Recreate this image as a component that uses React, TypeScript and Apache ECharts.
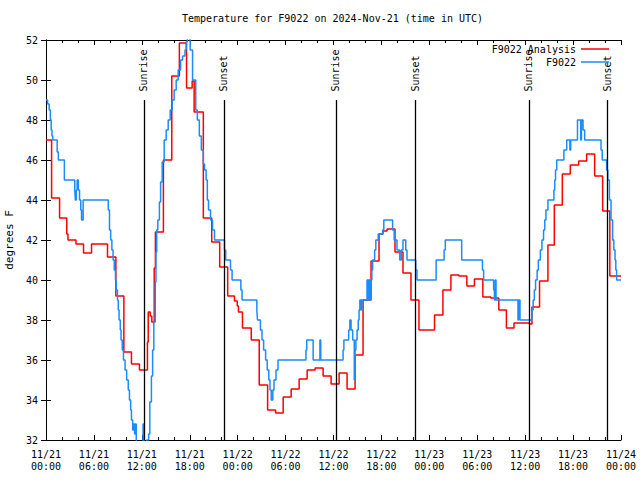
import React, { useEffect, useRef } from "react";
import * as echarts from "echarts";

// Hours since 2024-11-21 00:00 UTC, temperature in degrees F
const analysisData: [number, number][] = [
  [0, 47.0], [0.7, 44.1], [1.7, 43.1], [2.6, 42.3], [2.75, 42.0], [3.75, 41.8],
  [4.7, 41.35], [5.7, 41.8], [7.7, 41.15], [8.75, 39.2], [9.75, 36.4], [10.7, 35.8],
  [11.7, 35.5], [12.7, 36.9], [12.8, 38.4], [13.05, 38.2], [13.25, 37.9], [13.55, 40.6],
  [13.7, 42.4], [14.7, 46.0], [15.75, 50.2], [16.7, 51.85], [17.6, 49.6], [18.3, 49.95],
  [18.55, 48.4], [19.7, 43.1], [20.75, 41.9], [21.75, 40.65], [22.75, 39.2], [23.6, 38.95],
  [23.95, 38.7], [24.1, 38.4], [24.6, 37.6], [25.7, 37.0], [26.7, 34.75], [27.75, 33.5],
  [28.75, 33.35], [29.7, 34.15], [30.7, 34.55], [31.7, 35.05], [32.7, 35.5], [33.7, 35.6],
  [34.7, 35.2], [35.7, 34.8], [36.7, 35.35], [37.7, 34.55], [38.7, 36.25], [39.7, 39.0],
  [40.7, 40.95], [41.7, 42.3], [42.2, 42.45], [42.7, 42.55], [43.7, 41.4], [44.7, 40.35],
  [45.7, 39.0], [46.7, 37.5], [48.65, 38.25], [49.7, 39.5], [50.7, 40.25], [51.7, 40.2],
  [52.7, 39.7], [53.65, 40.05], [54.7, 39.15], [55.7, 39.1], [56.7, 38.5], [57.65, 37.6],
  [58.6, 37.85], [60.5, 37.8], [60.85, 38.65], [61.8, 39.95], [62.85, 41.75], [63.65, 43.75],
  [64.65, 45.3], [65.65, 45.75], [66.7, 45.95], [67.7, 46.3], [68.7, 45.2], [69.7, 43.45],
  [70.6, 40.2], [72, 40.2],
];

const stationData: [number, number][] = [
  [0, 49.0], [0.2, 48.8], [0.4, 48.5], [0.55, 48.0], [0.65, 47.5], [0.75, 47.2], [0.85, 47.0],
  [1.4, 46.4], [1.55, 46.0], [2.3, 45.0], [3.6, 44.5], [3.68, 44.0], [3.8, 44.5], [3.9, 45.0],
  [4.05, 44.5], [4.2, 44.0], [4.35, 43.5], [4.45, 43.0], [4.65, 44.0], [7.8, 43.5], [7.95, 42.5],
  [8.1, 42.0], [8.25, 41.5], [8.4, 41.0], [8.55, 40.5], [8.7, 40.0], [8.8, 39.5], [8.95, 39.0],
  [9.05, 38.5], [9.15, 38.0], [9.3, 37.5], [9.4, 37.0], [9.55, 36.5], [9.7, 36.0], [9.9, 35.5],
  [10.1, 35.0], [10.3, 34.5], [10.45, 34.0], [10.6, 33.5], [10.7, 33.0], [10.85, 32.5], [11.0, 32.8],
  [11.1, 32.3], [11.2, 32.8], [11.3, 31.5], [12.15, 32.8], [12.25, 31.0], [12.6, 32.0], [12.85, 32.3],
  [13.0, 33.9], [13.2, 35.2], [13.35, 36.5], [13.5, 37.9], [13.68, 39.9], [13.77, 41.4], [13.86, 42.5],
  [14.0, 43.0], [14.2, 43.9], [14.35, 44.9], [14.55, 45.9], [14.8, 47.0], [15.05, 47.5], [15.3, 48.0],
  [15.55, 48.5], [15.8, 49.0], [16.05, 49.5], [16.3, 50.0], [16.55, 50.5], [16.85, 51.0], [17.1, 51.2],
  [17.4, 51.5], [17.55, 51.9], [17.7, 52.5], [18.05, 51.5], [18.35, 50.0], [18.75, 48.5], [18.95, 48.0],
  [19.2, 47.2], [19.45, 46.5], [19.7, 45.8], [19.85, 45.5], [20.05, 45.0], [20.2, 44.0], [20.35, 43.5],
  [20.6, 43.0], [20.85, 42.5], [21.1, 42.0], [22.35, 41.5], [22.5, 41.0], [23.1, 40.5], [23.3, 40.0],
  [24.4, 39.5], [24.55, 39.0], [26.4, 38.5], [26.48, 38.0], [26.85, 37.5], [27.05, 37.0], [27.25, 36.5],
  [27.5, 36.0], [27.7, 35.5], [27.9, 35.0], [28.05, 34.5], [28.2, 34.0], [28.4, 34.5], [28.55, 35.0],
  [28.8, 35.5], [29.05, 36.0], [32.55, 36.5], [32.65, 37.0], [33.45, 36.0], [34.3, 37.0], [34.4, 36.0],
  [37.2, 36.5], [37.3, 37.0], [37.9, 37.5], [38.05, 38.0], [38.2, 37.5], [38.4, 37.0], [38.6, 35.0],
  [38.7, 36.5], [38.8, 37.0], [38.95, 37.5], [39.1, 38.0], [39.2, 38.5], [39.3, 39.0], [39.45, 38.5],
  [39.55, 39.0], [40.2, 40.0], [40.3, 39.0], [40.4, 40.0], [40.55, 39.0], [40.7, 40.0], [40.8, 40.5],
  [40.9, 41.0], [41.15, 41.5], [41.3, 42.0], [41.6, 42.3], [42.15, 42.5], [42.3, 43.0], [43.4, 42.5],
  [43.6, 42.0], [43.95, 41.5], [44.3, 41.0], [44.5, 41.5], [44.7, 42.0], [45.05, 41.5], [45.2, 41.0],
  [46.3, 40.5], [46.45, 40.0], [48.85, 41.0], [49.85, 41.5], [50.0, 42.0], [52.05, 41.0], [54.65, 40.5],
  [54.8, 40.0], [56.05, 39.5], [56.15, 39.0], [56.25, 40.0], [56.35, 39.0], [59.1, 38.0], [59.2, 39.0],
  [59.35, 38.0], [60.85, 38.5], [61.0, 39.0], [61.15, 39.5], [61.3, 40.0], [61.5, 40.5], [61.65, 41.0],
  [61.9, 41.5], [62.1, 42.0], [62.3, 42.5], [62.45, 43.0], [62.6, 43.5], [62.85, 44.0], [63.6, 44.5],
  [63.7, 45.0], [63.8, 45.5], [63.95, 46.0], [64.85, 46.5], [65.2, 47.0], [65.6, 46.5], [65.7, 47.0],
  [66.55, 48.0], [66.95, 47.0], [67.05, 48.0], [67.25, 47.5], [67.45, 47.0], [69.5, 46.5], [69.65, 46.0],
  [70.2, 45.5], [70.35, 45.0], [70.55, 44.0], [70.75, 43.0], [70.95, 42.0], [71.1, 41.5], [71.25, 41.0],
  [71.35, 40.5], [71.45, 40.0], [72, 40.0],
];

const eventHours = [12.27, 22.28, 36.3, 46.25, 60.45, 70.28];
const eventNames = ["Sunrise", "Sunset", "Sunrise", "Sunset", "Sunrise", "Sunset"];

const xTickLabels = [
  "11/21\n00:00", "11/21\n06:00", "11/21\n12:00", "11/21\n18:00",
  "11/22\n00:00", "11/22\n06:00", "11/22\n12:00", "11/22\n18:00",
  "11/23\n00:00", "11/23\n06:00", "11/23\n12:00", "11/23\n18:00",
  "11/24\n00:00",
];

const seriesNames = ["F9022 Analysis", "F9022"];
const titleText = "Temperature for F9022 on 2024-Nov-21 (time in UTC)";

const FONT = "DejaVu Sans Mono";

export default function App() {
  const ref = useRef<HTMLDivElement>(null);
  useEffect(() => {
    if (!ref.current) return;
    const chart = echarts.init(ref.current, null, { renderer: "svg" });
    const txt = { fontFamily: FONT, fontSize: 10, color: "#000" };
    const axisLine = { show: true, lineStyle: { color: "#000", width: 1 } };
    const tick = { show: true, inside: true, length: 5, lineStyle: { color: "#000", width: 1 } };
    const minor = { show: true, splitNumber: 3, length: 3, lineStyle: { color: "#000", width: 1 } };
    chart.setOption({
      animation: false,
      backgroundColor: "#fff",
      title: {
        text: titleText,
        left: 182,
        top: 13,
        padding: 0,
        textStyle: { ...txt, fontWeight: "normal" },
      },
      legend: [
        {
          data: [seriesNames[0]],
          right: 31,
          top: 43,
          padding: 0,
          align: "right",
          icon: "rect",
          itemWidth: 28,
          itemHeight: 1.5,
          textStyle: { ...txt, lineHeight: 12 },
        },
        {
          data: [seriesNames[1]],
          right: 31,
          top: 56,
          padding: 0,
          align: "right",
          icon: "rect",
          itemWidth: 28,
          itemHeight: 1.5,
          textStyle: { ...txt, lineHeight: 12 },
        },
      ],
      grid: {
        left: 46,
        right: 19,
        top: 40,
        bottom: 40,
        containLabel: false,
        outerBoundsMode: "none",
      },
      xAxis: [
        {
          type: "value",
          position: "bottom",
          min: 0,
          max: 72,
          interval: 6,
          axisLine,
          axisTick: tick,
          minorTick: minor,
          splitLine: { show: false },
          minorSplitLine: { show: false },
          axisLabel: {
            ...txt,
            margin: 8,
            lineHeight: 12,
            formatter: (v: number) => xTickLabels[Math.round(v / 6)] ?? "",
          },
        },
        {
          type: "value",
          position: "top",
          min: 0,
          max: 72,
          interval: 6,
          axisLine,
          axisTick: tick,
          minorTick: minor,
          splitLine: { show: false },
          minorSplitLine: { show: false },
          axisLabel: { show: false },
        },
      ],
      yAxis: [
        {
          type: "value",
          position: "left",
          min: 32,
          max: 52,
          interval: 2,
          name: "degrees F",
          nameLocation: "middle",
          nameGap: 25,
          nameRotate: 90,
          nameTextStyle: { fontFamily: FONT, fontSize: 11, color: "#000" },
          axisLine,
          axisTick: tick,
          splitLine: { show: false },
          axisLabel: { ...txt, margin: 8 },
        },
        {
          type: "value",
          position: "right",
          min: 32,
          max: 52,
          interval: 2,
          axisLine,
          axisTick: tick,
          splitLine: { show: false },
          axisLabel: { show: false },
        },
      ],
      series: [
        {
          type: "scatter",
          name: "events",
          xAxisIndex: 0,
          yAxisIndex: 0,
          symbolSize: 0.1,
          itemStyle: { color: "rgba(0,0,0,0)", opacity: 1 },
          silent: true,
          data: eventHours.map((h, i) => ({ value: [h, 49.42], name: eventNames[i] })),
          label: {
            show: true,
            position: "inside",
            formatter: "{b}",
            rotate: 90,
            align: "left",
            verticalAlign: "middle",
            opacity: 1,
            ...txt,
          },
          markLine: {
            silent: true,
            symbol: ["none", "none"],
            label: { show: false },
            lineStyle: { color: "#000", type: "solid", width: 1.3, opacity: 1 },
            data: eventHours.map((h) => [{ coord: [h, 32] }, { coord: [h, 49] }]),
          },
          z: 1,
        },
        {
          type: "line",
          name: seriesNames[0],
          step: "end",
          showSymbol: false,
          symbol: "none",
          data: analysisData,
          itemStyle: { color: "#ff0000" },
          lineStyle: { color: "#ff0000", width: 1.5 },
          z: 2,
        },
        {
          type: "line",
          name: seriesNames[1],
          step: "end",
          showSymbol: false,
          symbol: "none",
          data: stationData,
          itemStyle: { color: "#1a8cff" },
          lineStyle: { color: "#1a8cff", width: 1.5 },
          z: 3,
        },
      ],
    });
    return () => chart.dispose();
  }, []);
  return (
    <div
      ref={ref}
      style={{ position: "fixed", left: 0, top: 0, width: 640, height: 480, background: "#fff" }}
    />
  );
}
